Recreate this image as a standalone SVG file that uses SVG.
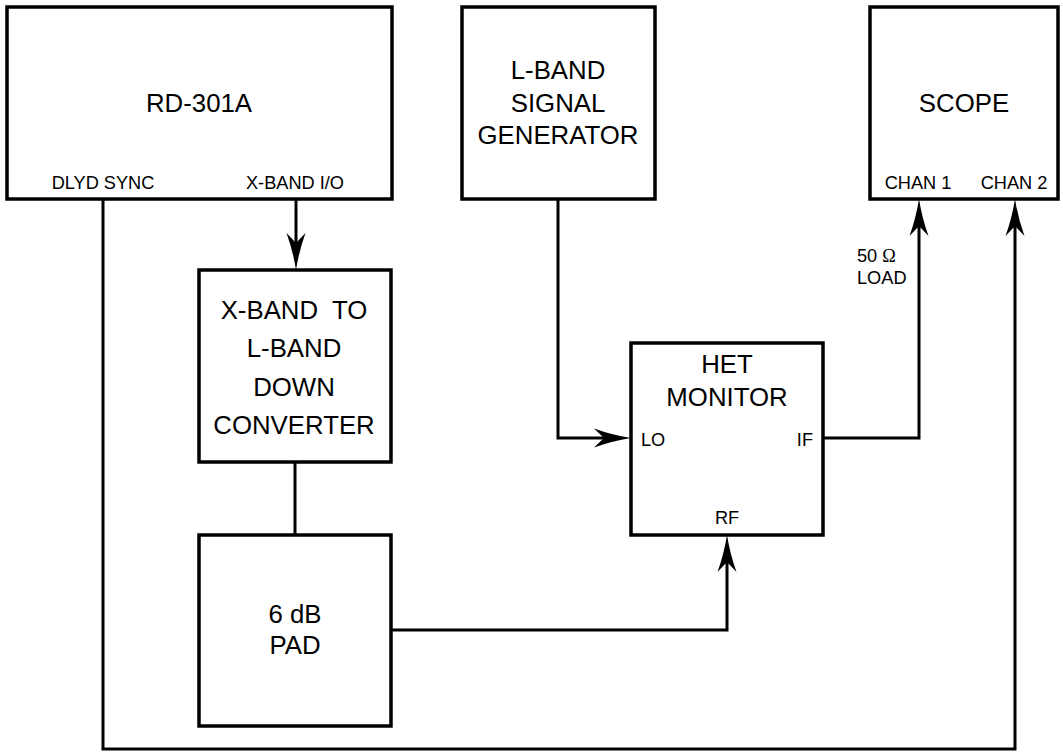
<svg xmlns="http://www.w3.org/2000/svg" width="1063" height="752" viewBox="0 0 1063 752">
<style>
.box{fill:#fff;stroke:#000;stroke-width:3.5}
.big{font-family:"Liberation Sans",Arial,sans-serif;font-size:25.8px;fill:#000;text-anchor:middle}
.sm{font-family:"Liberation Sans",Arial,sans-serif;font-size:18.2px;fill:#000}
.wire{fill:none;stroke:#000;stroke-width:3;stroke-linejoin:miter}
</style>
<defs>
<marker id="arr" markerUnits="userSpaceOnUse" markerWidth="40" markerHeight="22" refX="27" refY="10" orient="auto" overflow="visible">
<path d="M37,10 Q18,7 0,0.5 L10,10 L0,19.5 Q18,13 37,10 Z" fill="#000"/>
</marker>
</defs>
<rect width="1063" height="752" fill="#fff"/>
<g id="connectors">
<path class="wire" d="M296,199 V260" marker-end="url(#arr)"/>
<path class="wire" d="M295,462 V535"/>
<path class="wire" d="M558,199 V438 H621" marker-end="url(#arr)"/>
<path class="wire" d="M391,630 H727 V545" marker-end="url(#arr)"/>
<path class="wire" d="M823,438 H919 V209" marker-end="url(#arr)"/>
<path class="wire" d="M103,199 V749 H1015 V209" marker-end="url(#arr)"/>
</g>
<g id="rd301a">
<rect class="box" x="7" y="7" width="385" height="192"/>
<text class="big" x="199" y="112">RD-301A</text>
<text class="sm" x="103" y="189" text-anchor="middle">DLYD SYNC</text>
<text class="sm" x="295" y="189" text-anchor="middle">X-BAND I/O</text>
</g>
<g id="siggen">
<rect class="box" x="462" y="7" width="193" height="192"/>
<text class="big" x="558" y="79">L-BAND</text>
<text class="big" x="558" y="111.5">SIGNAL</text>
<text class="big" x="558" y="144">GENERATOR</text>
</g>
<g id="scope">
<rect class="box" x="870" y="7" width="188" height="192"/>
<text class="big" x="964" y="112">SCOPE</text>
<text class="sm" x="918" y="189" text-anchor="middle">CHAN 1</text>
<text class="sm" x="1014" y="189" text-anchor="middle">CHAN 2</text>
</g>
<g id="converter">
<rect class="box" x="199" y="270" width="192" height="192"/>
<text class="big" x="294" y="319" xml:space="preserve">X-BAND  TO</text>
<text class="big" x="294" y="357">L-BAND</text>
<text class="big" x="294" y="395.5">DOWN</text>
<text class="big" x="294" y="434">CONVERTER</text>
</g>
<g id="pad">
<rect class="box" x="199" y="535" width="192" height="191"/>
<text class="big" x="295" y="623">6 dB</text>
<text class="big" x="295" y="654">PAD</text>
</g>
<g id="hetmonitor">
<rect class="box" x="631" y="343" width="192" height="192"/>
<text class="big" x="727" y="373">HET</text>
<text class="big" x="727" y="406">MONITOR</text>
<text class="sm" x="641" y="446">LO</text>
<text class="sm" x="813" y="446" text-anchor="end">IF</text>
<text class="sm" x="727" y="524" text-anchor="middle">RF</text>
</g>
<g id="load-label">
<text class="sm" x="857" y="262">50 <tspan font-family="'Liberation Serif',serif">Ω</tspan></text>
<text class="sm" x="857" y="284">LOAD</text>
</g>
</svg>
